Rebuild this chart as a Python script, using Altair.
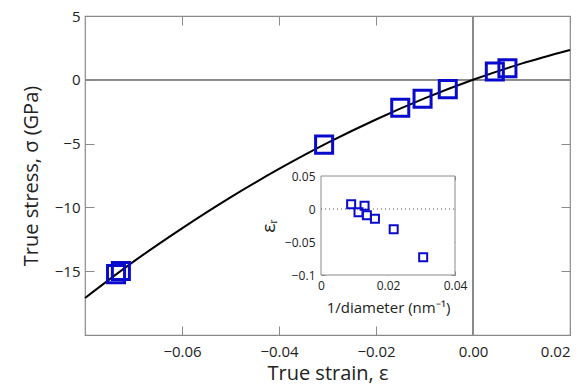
import altair as alt
import pandas as pd

# ---- data ----
strain_pts = [-0.0736, -0.0726, -0.0307, -0.0150, -0.0104, -0.0052, 0.0045, 0.0071]
stress_pts = [-15.23, -14.98, -5.08, -2.19, -1.48, -0.73, 0.65, 0.91]

fit_strain = [-0.08, -0.07, -0.06, -0.05, -0.04, -0.03, -0.02, -0.01, 0.0, 0.01, 0.02]
fit_stress = [-17.1, -14.25, -11.64, -9.21, -6.99, -4.95, -3.11, -1.46, 0.0, 1.27, 2.34]

inv_diam = [0.0090, 0.0130, 0.0112, 0.0137, 0.0161, 0.0217, 0.0305]
eps_r = [0.0071, 0.0050, -0.0050, -0.0095, -0.0147, -0.0308, -0.0732]

main_x_domain = [-0.08, 0.02]
main_y_domain = [-20, 5]
main_x_ticks = [-0.06, -0.04, -0.02, 0, 0.02]
main_y_ticks = [-15, -10, -5, 0, 5]

inset_x_domain = [0, 0.04]
inset_y_domain = [-0.1, 0.05]
inset_x_ticks = [0, 0.02, 0.04]
inset_y_ticks = [-0.1, -0.05, 0, 0.05]

# ---- layout constants ----
W, H = 485, 319
PAD = {"left": 85, "top": 16, "right": 18, "bottom": 57}
FONT = "Open Sans"
GRAY = "#8a8a8a"
BLUE = "#0a0acc"
MT = 9   # main tick length
IT = 4   # inset tick length

# inset placement inside plot area (pixels)
ix0, ix1 = 236, 370
iy_top, iy_bot = 160, 259

fit_df = pd.DataFrame({"strain": fit_strain, "stress": fit_stress})
pts_df = pd.DataFrame({"strain": strain_pts, "stress": stress_pts})
ins_df = pd.DataFrame({"d": inv_diam, "e": eps_r})

xs = alt.Scale(domain=main_x_domain, nice=False, zero=False)
ys = alt.Scale(domain=main_y_domain, nice=False, zero=False)

common_axis = dict(grid=False, domain=False, tickColor=GRAY, tickSize=MT,
                   labelFont=FONT, labelFontSize=15, labelColor="#222",
                   titleFont=FONT, titleFontSize=20, titleFontWeight="normal",
                   titleColor="#222")

x_bottom = alt.Axis(values=main_x_ticks, orient="bottom", offset=-MT, labelPadding=9,
                    title="True strain, ε", titlePadding=4, **common_axis)
y_left = alt.Axis(values=main_y_ticks, orient="left", offset=-MT, labelPadding=5,
                  title="True stress, σ (GPa)", titlePadding=13, **common_axis)
x_top = alt.Axis(values=main_x_ticks, orient="top", offset=-MT, labels=False,
                 title=None, grid=False, domain=False, tickColor=GRAY, tickSize=MT)
y_right = alt.Axis(values=main_y_ticks, orient="right", offset=-MT, labels=False,
                   title=None, grid=False, domain=False, tickColor=GRAY, tickSize=MT)

zero_h = alt.Chart(pts_df).mark_rule(color=GRAY, strokeWidth=1).encode(
    y=alt.Y(datum=0, scale=ys, axis=None))
zero_v = alt.Chart(pts_df).mark_rule(color=GRAY, strokeWidth=1).encode(
    x=alt.X(datum=0, scale=xs, axis=None))

fit_line = alt.Chart(fit_df).mark_line(color="black", strokeWidth=2,
                                       interpolate="monotone").encode(
    x=alt.X("strain:Q", scale=xs, axis=x_bottom),
    y=alt.Y("stress:Q", scale=ys, axis=y_left),
)
pts = alt.Chart(pts_df).mark_point(shape="square", size=290, filled=False,
                                   color=BLUE, strokeWidth=3, opacity=1).encode(
    x=alt.X("strain:Q", scale=xs, axis=x_top),
    y=alt.Y("stress:Q", scale=ys, axis=y_right),
)
main = alt.layer(zero_h, zero_v, fit_line, pts)

# ---- inset ----
ixs = alt.Scale(domain=inset_x_domain, range=[ix0, ix1], nice=False, zero=False)
iys = alt.Scale(domain=inset_y_domain, range=[iy_bot, iy_top], nice=False, zero=False)

inset_axis = dict(grid=False, domain=False, tickColor=GRAY, tickSize=IT,
                  labelFont=FONT, labelFontSize=12, labelColor="#222",
                  titleFont=FONT, titleFontWeight="normal",
                  titleColor="#222")

ix_bottom = alt.Axis(values=inset_x_ticks, orient="bottom", offset=-(H - iy_bot) - IT,
                     labelPadding=5, title="1/diameter (nm⁻¹)", titlePadding=9,
                     titleFontSize=15, format="~g", labelFlush=False, **inset_axis)
iy_left = alt.Axis(values=inset_y_ticks, orient="left", offset=-ix0 - IT,
                   labelPadding=6, title="εᵣ", titlePadding=6, titleFontSize=19,
                   format="~g", labelFlush=False, **inset_axis)
ix_top = alt.Axis(values=inset_x_ticks, orient="top", offset=-iy_top - IT, labels=False,
                  title=None, grid=False, domain=False, tickColor=GRAY, tickSize=IT)
iy_right = alt.Axis(values=inset_y_ticks, orient="right", offset=-(W - ix1) - IT,
                    labels=False, title=None, grid=False, domain=False,
                    tickColor=GRAY, tickSize=IT)

frame_df = pd.DataFrame({"x0": [inset_x_domain[0]], "x1": [inset_x_domain[1]],
                         "y0": [inset_y_domain[0]], "y1": [inset_y_domain[1]]})
inset_box = alt.Chart(frame_df).mark_rect(fill="white", stroke=GRAY, strokeWidth=1).encode(
    x=alt.X("x0:Q", scale=ixs, axis=ix_bottom),
    x2="x1:Q",
    y=alt.Y("y0:Q", scale=iys, axis=iy_left),
    y2="y1:Q",
)
inset_zero = alt.Chart(frame_df).mark_rule(color="#555", strokeDash=[1, 3],
                                           strokeWidth=1.2).encode(
    x=alt.X("x0:Q", scale=ixs, axis=None),
    x2="x1:Q",
    y=alt.Y(datum=0, scale=iys, axis=None),
)
inset_pts = alt.Chart(ins_df).mark_point(shape="square", size=64, filled=False,
                                         color=BLUE, strokeWidth=2, opacity=1).encode(
    x=alt.X("d:Q", scale=ixs, axis=ix_top),
    y=alt.Y("e:Q", scale=iys, axis=iy_right),
)
inset = alt.layer(inset_box, inset_zero, inset_pts)

chart = alt.layer(main, inset).resolve_scale(
    x="independent", y="independent"
).properties(
    width=W, height=H, padding=PAD,
    autosize=alt.AutoSizeParams(type="none"),
    background="white",
).configure_view(stroke=GRAY, strokeWidth=1.2)

chart.save("out.html", embed_options={"renderer": "svg", "actions": False})
